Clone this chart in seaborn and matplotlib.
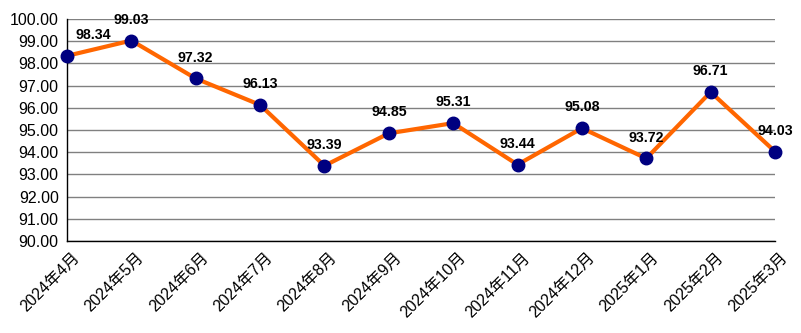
import matplotlib
matplotlib.use("Agg")
import matplotlib.pyplot as plt
from matplotlib.transforms import ScaledTranslation
import seaborn as sns
import pandas as pd

months = ["2024年4月", "2024年5月", "2024年6月", "2024年7月", "2024年8月", "2024年9月",
          "2024年10月", "2024年11月", "2024年12月", "2025年1月", "2025年2月", "2025年3月"]
values = [98.34, 99.03, 97.32, 96.13, 93.39, 94.85, 95.31, 93.44, 95.08, 93.72, 96.71, 94.03]
yticks = [90, 91, 92, 93, 94, 95, 96, 97, 98, 99, 100]

sns.set_theme(style="white")
plt.rcParams['font.family'] = ['Liberation Sans', 'Noto Sans CJK SC', 'DejaVu Sans']

df = pd.DataFrame({"month": months, "value": values})

fig = plt.figure(figsize=(8.01, 3.33), dpi=100)
ax = fig.add_axes([67/801, 92/333, (775-67)/801, (241-19)/333])

sns.lineplot(data=df, x="month", y="value", ax=ax, color="#FF6600", linewidth=3,
             marker="o", markersize=9, markerfacecolor="#000080",
             markeredgecolor="#000080", markeredgewidth=1, zorder=3, clip_on=False)

ax.set_xlim(0, len(months) - 1)
ax.set_ylim(90, 100)
ax.set_yticks(yticks)
ax.set_yticklabels([f"{v:.2f}" for v in yticks], fontsize=11.5, color="black")
ax.set_xticks(range(len(months)))
ax.set_xticklabels(months, rotation=45, ha="right", va="top", rotation_mode="anchor",
                   fontsize=11.5, color="black",
                   family=['Liberation Sans', 'Noto Sans CJK SC', 'DejaVu Sans'])
ax.set_xlabel("")
ax.set_ylabel("")

ax.grid(axis="y", color="#808080", linewidth=1)
ax.set_axisbelow(True)
for s in ["top", "right"]:
    ax.spines[s].set_visible(False)
for s in ["left", "bottom"]:
    ax.spines[s].set_color("black")
    ax.spines[s].set_linewidth(1)
ax.tick_params(axis="x", direction="in", length=5, width=1, color="black", pad=4)
ax.tick_params(axis="y", length=0, pad=6)

shift = ScaledTranslation(3.5 / 72, -2.5 / 72, fig.dpi_scale_trans)
for lbl in ax.get_xticklabels():
    lbl.set_transform(lbl.get_transform() + shift)

for i, v in enumerate(values):
    dx = 19 if i == 0 else 0
    ax.annotate(f"{v:.2f}", (i, v), xytext=(dx, 10), textcoords="offset points",
                ha="center", va="bottom", fontsize=10.2, fontweight="bold", color="black")

fig.savefig("out.png", dpi=100)
